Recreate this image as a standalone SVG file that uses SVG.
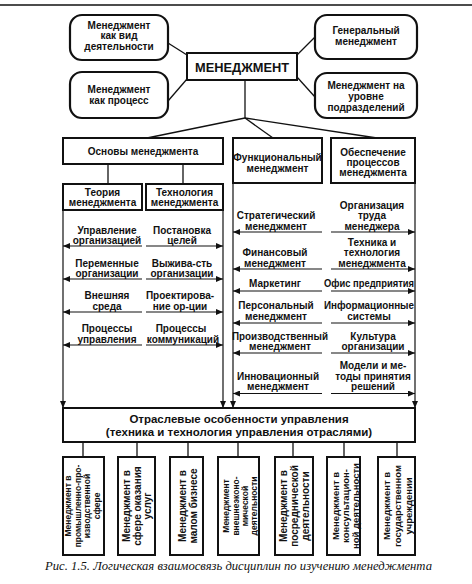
<svg xmlns="http://www.w3.org/2000/svg" width="472" height="584" viewBox="0 0 472 584">
<style>
text{font-family:"Liberation Sans",Arial,sans-serif;font-weight:bold;font-size:10px;fill:#111;text-anchor:middle}
.box{fill:#fff;stroke:#111;stroke-width:2}
.rbox{fill:#fff;stroke:#111;stroke-width:2.2}
.ln{stroke:#111;stroke-width:1.3;fill:none}
.ar{stroke:#111;stroke-width:1.2;fill:none;marker-end:url(#ah)}
.big{font-size:13px}
.otr{font-size:11.5px}
.s85{font-size:8.5px}
.s95{font-size:9.5px}
.cap{font-family:"Liberation Serif","Times New Roman",serif;font-style:italic;font-weight:normal;font-size:13px;text-anchor:start}
</style>
<defs>
<marker id="ah" markerUnits="userSpaceOnUse" markerWidth="8" markerHeight="6" refX="7" refY="3" orient="auto">
<path d="M0,0 L7,3 L0,6 Z" fill="#111"/>
</marker>
</defs>
<rect width="472" height="584" fill="#fff"/>
<line x1="0" y1="5" x2="472" y2="5" stroke="#111" stroke-width="1.6"/>

<g id="connectors">
<line class="ln" x1="168" y1="43" x2="187" y2="55"/>
<line class="ln" x1="168" y1="101" x2="187" y2="79"/>
<line class="ln" x1="297" y1="55" x2="315" y2="37"/>
<line class="ln" x1="297" y1="77" x2="315" y2="97"/>
<line class="ln" x1="245" y1="80" x2="245" y2="118"/>
<line class="ln" x1="245" y1="118" x2="147" y2="138"/>
<line class="ln" x1="245" y1="118" x2="273" y2="138"/>
<line class="ln" x1="245" y1="118" x2="377" y2="138"/>
<line class="ln" x1="108" y1="164" x2="108" y2="184"/>
<line class="ln" x1="183" y1="164" x2="183" y2="184"/>
<!-- column verticals -->
<line class="ar" x1="63" y1="210" x2="63" y2="408"/>
<line class="ar" x1="223" y1="210" x2="223" y2="408"/>
<line class="ar" x1="233" y1="183" x2="233" y2="408"/>
<line class="ar" x1="415" y1="183" x2="415" y2="408"/>
<!-- left section rows -->
<line class="ar" x1="142" y1="246" x2="63" y2="246"/>
<line class="ar" x1="146" y1="246" x2="223" y2="246"/>
<line class="ar" x1="142" y1="279" x2="63" y2="279"/>
<line class="ar" x1="146" y1="279" x2="223" y2="279"/>
<line class="ar" x1="142" y1="312" x2="63" y2="312"/>
<line class="ar" x1="146" y1="312" x2="223" y2="312"/>
<line class="ar" x1="142" y1="345" x2="63" y2="345"/>
<line class="ar" x1="146" y1="345" x2="223" y2="345"/>
<!-- right section rows -->
<line class="ar" x1="322" y1="232" x2="233" y2="232"/>
<line class="ar" x1="331" y1="232" x2="415" y2="232"/>
<line class="ar" x1="322" y1="269" x2="233" y2="269"/>
<line class="ar" x1="331" y1="269" x2="415" y2="269"/>
<line class="ar" x1="322" y1="291" x2="233" y2="291"/>
<line class="ar" x1="331" y1="291" x2="415" y2="291"/>
<line class="ar" x1="322" y1="323" x2="233" y2="323"/>
<line class="ar" x1="331" y1="323" x2="415" y2="323"/>
<line class="ar" x1="322" y1="353" x2="233" y2="353"/>
<line class="ar" x1="331" y1="353" x2="415" y2="353"/>
<line class="ar" x1="322" y1="393.5" x2="233" y2="393.5"/>
<line class="ar" x1="331" y1="393.5" x2="415" y2="393.5"/>
<!-- bottom branches -->
<line class="ln" x1="83" y1="442" x2="83" y2="457"/>
<line class="ln" x1="137" y1="442" x2="137" y2="457"/>
<line class="ln" x1="188" y1="442" x2="188" y2="457"/>
<line class="ln" x1="238" y1="442" x2="238" y2="457"/>
<line class="ln" x1="293" y1="442" x2="293" y2="457"/>
<line class="ln" x1="344" y1="442" x2="344" y2="457"/>
<line class="ln" x1="397" y1="442" x2="397" y2="457"/>
</g>

<g id="n-activity">
<rect class="rbox" x="70" y="15" width="98" height="45" rx="12"/>
<text x="119" y="28.5">Менеджмент</text>
<text x="119" y="39">как вид</text>
<text x="119" y="49.5">деятельности</text>
</g>
<g id="n-process">
<rect class="rbox" x="70" y="72" width="98" height="46" rx="12"/>
<text x="119" y="92.5">Менеджмент</text>
<text x="119" y="103.5">как процесс</text>
</g>
<g id="n-general">
<rect class="rbox" x="315" y="15" width="102" height="44" rx="12"/>
<text x="366" y="33.5">Генеральный</text>
<text x="366" y="44.5">менеджмент</text>
</g>
<g id="n-level">
<rect class="rbox" x="315" y="73" width="102" height="45" rx="12"/>
<text x="366" y="88.5">Менеджмент на</text>
<text x="366" y="99.5">уровне</text>
<text x="366" y="110.5">подразделений</text>
</g>
<g id="n-main">
<rect class="box" x="187" y="53" width="110" height="27" stroke-width="2.6"/>
<text class="big" x="242" y="71.5" textLength="94" lengthAdjust="spacingAndGlyphs">МЕНЕДЖМЕНТ</text>
</g>

<g id="n-osnovy">
<rect class="box" x="63" y="138" width="160" height="26"/>
<text x="143" y="155">Основы менеджмента</text>
</g>
<g id="n-teoria">
<rect class="box" x="63" y="184" width="79" height="26"/>
<text x="102.5" y="195.5">Теория</text>
<text x="102.5" y="206">менеджмента</text>
</g>
<g id="n-tehnol">
<rect class="box" x="146" y="184" width="77" height="26"/>
<text x="184.5" y="195.5">Технология</text>
<text x="184.5" y="206">менеджмента</text>
</g>
<g id="n-func">
<rect class="box" x="233" y="138" width="89" height="45"/>
<text x="277.5" y="160.5">Функциональный</text>
<text x="277.5" y="171.5">менеджмент</text>
</g>
<g id="n-obesp">
<rect class="box" x="331" y="138" width="84" height="45"/>
<text x="373" y="155.5">Обеспечение</text>
<text x="373" y="165.5">процессов</text>
<text x="373" y="175.5">менеджмента</text>
</g>

<g id="left-items">
<text x="107" y="233.5">Управление</text>
<text x="107" y="244">организацией</text>
<text x="182" y="233.5">Постановка</text>
<text x="182" y="244">целей</text>
<text x="107" y="266.5">Переменные</text>
<text x="107" y="277">организации</text>
<text x="182" y="266.5">Выжива-сть</text>
<text x="182" y="277">организации</text>
<text x="107" y="299">Внешняя</text>
<text x="107" y="309.5">среда</text>
<text x="180" y="299">Проектирова-</text>
<text x="180" y="309.5">ние ор-ции</text>
<text x="107" y="332">Процессы</text>
<text x="107" y="342.5">управления</text>
<text x="181" y="332">Процессы</text>
<text x="183" y="342.5">коммуникаций</text>
</g>

<g id="right-items">
<text x="276" y="219">Стратегический</text>
<text x="276" y="229.5">менеджмент</text>
<text x="372" y="208.5">Организация</text>
<text x="372" y="219">труда</text>
<text x="372" y="229.5">менеджера</text>
<text x="275" y="256">Финансовый</text>
<text x="275" y="266.5">менеджмент</text>
<text x="372" y="245.5">Техника и</text>
<text x="372" y="256">технология</text>
<text x="372" y="266.5">менеджмента</text>
<text x="275" y="287">Маркетинг</text>
<text x="369" y="287" textLength="90" lengthAdjust="spacingAndGlyphs">Офис предприятия</text>
<text x="276" y="309">Персональный</text>
<text x="276" y="319.5">менеджмент</text>
<text x="369" y="309" textLength="90" lengthAdjust="spacingAndGlyphs">Информационные</text>
<text x="369" y="319.5">системы</text>
<text x="280" y="339.5" textLength="96" lengthAdjust="spacingAndGlyphs">Производственный</text>
<text x="280" y="350">менеджмент</text>
<text x="373" y="339.5">Культура</text>
<text x="373" y="350">организации</text>
<text x="278" y="379.5">Инновационный</text>
<text x="278" y="390">менеджмент</text>
<text x="373" y="369">Модели и ме-</text>
<text x="373" y="379.5">тоды принятия</text>
<text x="373" y="390">решений</text>
</g>

<g id="n-otrasl">
<rect class="box" x="63" y="408" width="352" height="34"/>
<text class="otr" x="239" y="422.5">Отраслевые особенности  управления</text>
<text class="otr" x="239" y="436">(техника и технология управления отраслями)</text>
</g>

<g id="n-b1">
<rect class="box" x="63" y="457" width="41" height="98"/>
<text class="s85" transform="translate(0,506) rotate(-90)"><tspan x="0" y="71">Менеджмент в</tspan><tspan x="0" y="80.5">промышленно-про-</tspan><tspan x="0" y="90">изводственной</tspan><tspan x="0" y="99.5">сфере</tspan></text>
</g>
<g id="n-b2">
<rect class="box" x="118" y="457" width="37" height="98"/>
<text transform="translate(0,506) rotate(-90)"><tspan x="0" y="130">Менеджмент в</tspan><tspan x="0" y="140.5">сфере оказания</tspan><tspan x="0" y="151">услуг</tspan></text>
</g>
<g id="n-b3">
<rect class="box" x="170" y="457" width="33" height="98"/>
<text transform="translate(0,506) rotate(-90)"><tspan x="0" y="185.5">Менеджмент в</tspan><tspan x="0" y="196.5">малом бизнесе</tspan></text>
</g>
<g id="n-b4">
<rect class="box" x="218" y="457" width="41" height="98"/>
<text class="s85" transform="translate(0,506) rotate(-90)"><tspan x="0" y="229">Менеджмент</tspan><tspan x="0" y="238.5">внешнеэконо-</tspan><tspan x="0" y="248">мической</tspan><tspan x="0" y="257">деятельности</tspan></text>
</g>
<g id="n-b5">
<rect class="box" x="275" y="457" width="38" height="98"/>
<text transform="translate(0,506) rotate(-90)"><tspan x="0" y="287">Менеджмент в</tspan><tspan x="0" y="298">посреднической</tspan><tspan x="0" y="309">деятельности</tspan></text>
</g>
<g id="n-b6">
<rect class="box" x="327" y="457" width="33" height="98"/>
<text class="s95" transform="translate(0,506) rotate(-90)"><tspan x="0" y="338.5">Менеджмент в</tspan><tspan x="0" y="348.5">консультацион-</tspan><tspan x="0" y="358.5">ной деятельности</tspan></text>
</g>
<g id="n-b7">
<rect class="box" x="378" y="457" width="37" height="98"/>
<text class="s95" transform="translate(0,506) rotate(-90)"><tspan x="0" y="390">Менеджмент в</tspan><tspan x="0" y="401">государственном</tspan><tspan x="0" y="412">учреждении</tspan></text>
</g>

<text class="cap" x="45" y="570" textLength="387" lengthAdjust="spacingAndGlyphs">Рис. 1.5. Логическая взаимосвязь дисциплин по изучению менеджмента</text>
</svg>
